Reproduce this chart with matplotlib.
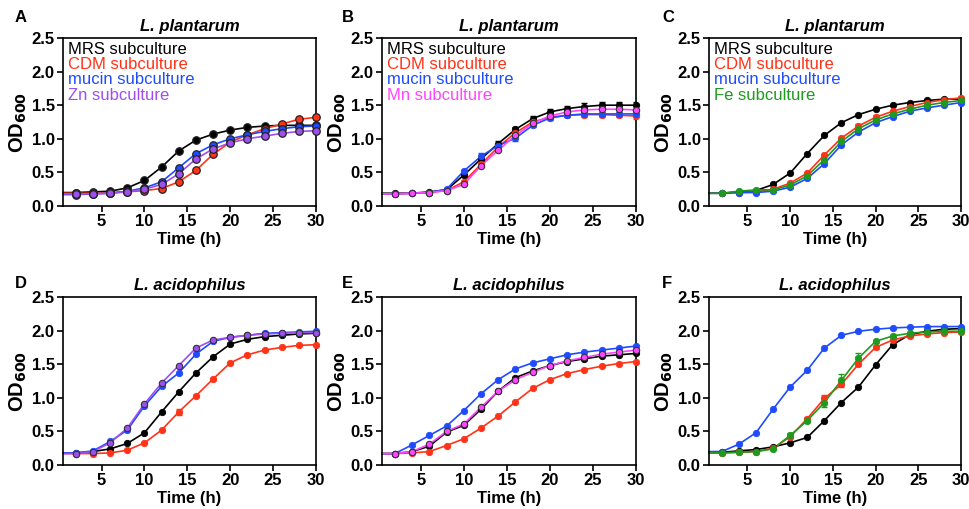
import numpy as np
import matplotlib
matplotlib.use("Agg")
import matplotlib.pyplot as plt
from matplotlib.ticker import FormatStrFormatter

plt.rcParams['font.family'] = ['Liberation Sans', 'DejaVu Sans']

time = [2, 4, 6, 8, 10, 12, 14, 16, 18, 20, 22, 24, 26, 28, 30]

# Panel A - L. plantarum, Zn
a_mrs   = [0.20, 0.21, 0.22, 0.27, 0.38, 0.58, 0.82, 0.98, 1.07, 1.13, 1.17, 1.19, 1.20, 1.20, 1.20]
a_cdm   = [0.19, 0.19, 0.20, 0.21, 0.23, 0.26, 0.36, 0.53, 0.77, 0.95, 1.06, 1.15, 1.22, 1.29, 1.32]
a_mucin = [0.17, 0.18, 0.19, 0.22, 0.27, 0.36, 0.57, 0.78, 0.91, 1.00, 1.06, 1.11, 1.15, 1.18, 1.19]
a_metal = [0.18, 0.18, 0.19, 0.21, 0.25, 0.32, 0.48, 0.70, 0.85, 0.94, 1.00, 1.04, 1.08, 1.11, 1.12]

# Panel B - L. plantarum, Mn
b_mrs   = [0.19, 0.19, 0.21, 0.24, 0.46, 0.70, 0.93, 1.14, 1.30, 1.40, 1.45, 1.48, 1.50, 1.50, 1.50]
b_cdm   = [0.18, 0.19, 0.20, 0.23, 0.36, 0.62, 0.88, 1.09, 1.25, 1.32, 1.35, 1.36, 1.36, 1.35, 1.34]
b_mucin = [0.18, 0.19, 0.20, 0.25, 0.52, 0.74, 0.90, 1.01, 1.20, 1.31, 1.35, 1.37, 1.37, 1.37, 1.37]
b_metal = [0.18, 0.19, 0.20, 0.23, 0.32, 0.60, 0.83, 1.05, 1.23, 1.34, 1.40, 1.43, 1.44, 1.44, 1.43]

# Panel C - L. plantarum, Fe
c_mrs   = [0.19, 0.21, 0.23, 0.32, 0.49, 0.78, 1.05, 1.24, 1.36, 1.44, 1.50, 1.54, 1.57, 1.59, 1.59]
c_cdm   = [0.19, 0.20, 0.21, 0.25, 0.34, 0.49, 0.76, 1.01, 1.19, 1.32, 1.41, 1.48, 1.54, 1.58, 1.61]
c_mucin = [0.19, 0.20, 0.20, 0.22, 0.28, 0.41, 0.63, 0.91, 1.10, 1.24, 1.33, 1.41, 1.46, 1.50, 1.54]
c_metal = [0.19, 0.22, 0.24, 0.24, 0.31, 0.45, 0.69, 0.96, 1.15, 1.28, 1.37, 1.44, 1.50, 1.54, 1.57]

# Panel D - L. acidophilus, Zn
d_mrs   = [0.18, 0.20, 0.24, 0.32, 0.48, 0.79, 1.09, 1.37, 1.61, 1.80, 1.87, 1.91, 1.93, 1.95, 1.96]
d_cdm   = [0.17, 0.17, 0.18, 0.22, 0.33, 0.52, 0.79, 1.03, 1.28, 1.52, 1.64, 1.71, 1.75, 1.78, 1.79]
d_mucin = [0.18, 0.21, 0.35, 0.52, 0.88, 1.17, 1.37, 1.65, 1.84, 1.90, 1.93, 1.96, 1.97, 1.98, 1.99]
d_metal = [0.17, 0.20, 0.33, 0.55, 0.91, 1.22, 1.48, 1.74, 1.86, 1.90, 1.93, 1.95, 1.96, 1.97, 1.97]

# Panel E - L. acidophilus, Mn
e_mrs   = [0.17, 0.20, 0.28, 0.49, 0.59, 0.83, 1.10, 1.30, 1.40, 1.48, 1.54, 1.58, 1.62, 1.64, 1.66]
e_cdm   = [0.17, 0.18, 0.20, 0.29, 0.39, 0.55, 0.73, 0.94, 1.14, 1.27, 1.36, 1.42, 1.47, 1.51, 1.54]
e_mucin = [0.17, 0.30, 0.44, 0.58, 0.81, 1.06, 1.27, 1.43, 1.52, 1.58, 1.64, 1.68, 1.71, 1.74, 1.77]
e_metal = [0.17, 0.20, 0.31, 0.50, 0.61, 0.86, 1.10, 1.27, 1.38, 1.48, 1.55, 1.60, 1.65, 1.68, 1.71]

# Panel F - L. acidophilus, Fe
f_mrs   = [0.19, 0.21, 0.23, 0.27, 0.33, 0.41, 0.66, 0.93, 1.16, 1.49, 1.79, 1.94, 1.99, 2.02, 2.03]
f_cdm   = [0.18, 0.19, 0.20, 0.25, 0.42, 0.69, 0.99, 1.20, 1.50, 1.75, 1.86, 1.92, 1.95, 1.97, 1.98]
f_mucin = [0.20, 0.31, 0.48, 0.83, 1.16, 1.41, 1.74, 1.93, 1.99, 2.02, 2.04, 2.05, 2.06, 2.06, 2.06]
f_metal = [0.18, 0.19, 0.20, 0.24, 0.44, 0.66, 0.93, 1.26, 1.59, 1.84, 1.92, 1.96, 1.98, 1.99, 1.99]

# error bars (SD) for selected series
b_err_mrs   = [0, 0, 0.02, 0.01, 0.02, 0.03, 0.03, 0.03, 0.04, 0.04, 0.04, 0.05, 0.05, 0.05, 0.05]
b_err_cdm   = [0, 0, 0.01, 0.01, 0.02, 0.02, 0.02, 0.03, 0.03, 0.03, 0.03, 0.03, 0.03, 0.03, 0.04]
b_err_mucin = [0, 0, 0.01, 0.01, 0.02, 0.05, 0.03, 0.04, 0.03, 0.03, 0.03, 0.03, 0.03, 0.03, 0.03]
f_err_metal = [0, 0, 0, 0, 0.03, 0.02, 0.06, 0.09, 0.07, 0.02, 0.01, 0.01, 0.01, 0.01, 0.01]
f_err_cdm   = [0, 0, 0, 0, 0.02, 0.02, 0.05, 0.04, 0.03, 0.02, 0.01, 0.01, 0.01, 0.01, 0.01]
d_err_cdm   = [0, 0, 0, 0, 0, 0, 0.04, 0.01, 0.01, 0.01, 0.01, 0.01, 0.01, 0.01, 0.01]
a_err_cdm   = [0, 0, 0, 0, 0, 0, 0, 0, 0, 0, 0, 0.02, 0.03, 0.03, 0.04]
c_err_cdm   = [0, 0, 0, 0, 0, 0, 0, 0, 0.03, 0.03, 0.02, 0.02, 0.02, 0.02, 0.02]
c_err_metal = [0, 0, 0.02, 0.03, 0, 0, 0, 0, 0, 0, 0, 0, 0, 0, 0]

labels_common = ["MRS subculture", "CDM subculture", "mucin subculture"]

BLACK = "#000000"
RED = "#FF3318"
BLUE = "#1F4BFF"
PURPLE = "#9D4FEF"
MAGENTA = "#FF45FF"
GREEN = "#1E9A1E"

panels = [
    ("A", "L. plantarum", [a_mrs, a_cdm, a_mucin, a_metal], "Zn subculture", PURPLE,
     {1: a_err_cdm}, True, True),
    ("B", "L. plantarum", [b_mrs, b_cdm, b_mucin, b_metal], "Mn subculture", MAGENTA,
     {0: b_err_mrs, 1: b_err_cdm, 2: b_err_mucin}, False, True),
    ("C", "L. plantarum", [c_mrs, c_cdm, c_mucin, c_metal], "Fe subculture", GREEN,
     {1: c_err_cdm, 3: c_err_metal}, False, True),
    ("D", "L. acidophilus", [d_mrs, d_cdm, d_mucin, d_metal], "Zn subculture", PURPLE,
     {1: d_err_cdm}, False, False),
    ("E", "L. acidophilus", [e_mrs, e_cdm, e_mucin, e_metal], "Mn subculture", MAGENTA,
     {}, False, False),
    ("F", "L. acidophilus", [f_mrs, f_cdm, f_mucin, f_metal], "Fe subculture", GREEN,
     {1: f_err_cdm, 3: f_err_metal}, False, False),
]

fig = plt.figure(figsize=(9.7, 5.09), dpi=100)

W, H = 970.0, 509.0
cols = [(63, 316), (382, 636), (709, 961)]
rows = [(38, 206), (297, 465)]

t = np.array(time, dtype=float)
xmin = 0.5

for i, (letter, title, series, metal_label, metal_color, errs, big_edge, show_legend) in enumerate(panels):
    r, c = divmod(i, 3)
    l, rr = cols[c]
    tp, bt = rows[r]
    ax = fig.add_axes([l / W, 1 - bt / H, (rr - l) / W, (bt - tp) / H])

    colors = [BLACK, RED, BLUE, metal_color]
    order = [3, 2, 1, 0] if letter in ("A",) else [3, 1, 2, 0]
    for k in order:
        y = np.array(series[k], dtype=float)
        col = colors[k]
        tx = np.concatenate([[xmin], t])
        yx = np.concatenate([[y[0]], y])
        ax.plot(tx, yx, color=col, lw=1.2, zorder=2 + k * 0.1, clip_on=False)
        if k in errs:
            ax.errorbar(t, y, yerr=errs[k], fmt='none', ecolor=col, elinewidth=1.0,
                        capsize=2.5, capthick=1.0, zorder=2 + k * 0.1)
        if big_edge:
            ms, mec, mew = 5.4, "#222222", 0.9
        else:
            ms = 4.6
            if k == 3 and metal_color in (PURPLE, MAGENTA):
                mec, mew = "#333333", 0.8
            else:
                mec, mew = col, 0.6
        ax.plot(t, y, linestyle='none', marker='o', ms=ms, mfc=col, mec=mec, mew=mew,
                zorder=3 + k * 0.1, clip_on=False)

    ax.set_xlim(xmin, 30)
    ax.set_ylim(0, 2.5)
    ax.set_xticks([5, 10, 15, 20, 25, 30])
    ax.set_yticks([0, 0.5, 1.0, 1.5, 2.0, 2.5])
    ax.yaxis.set_major_formatter(FormatStrFormatter('%.1f'))
    for sp in ax.spines.values():
        sp.set_linewidth(1.2)
    ax.tick_params(axis='both', direction='out', length=4, width=1.2, labelsize=12, pad=2)
    for lab in ax.get_xticklabels() + ax.get_yticklabels():
        lab.set_fontweight('bold')
    ax.set_xlabel("Time (h)", fontsize=12, fontweight='bold', labelpad=2)
    ax.set_ylabel("OD$_{\\mathbf{600}}$", fontsize=14.5, fontweight='bold', labelpad=2)
    ax.set_title(title, fontsize=12, fontweight='bold', fontstyle='italic', pad=5)

    if show_legend:
        names = labels_common + [metal_label]
        for j, (nm, col) in enumerate(zip(names, colors)):
            ax.text(0.02, 0.975 - j * 0.09, nm, transform=ax.transAxes, color=col,
                    fontsize=12, va='top', ha='left', zorder=10)

    lx = [15, 342, 662][c]
    ly = [18, 283][r]
    fig.text(lx / W, 1 - ly / H, letter, fontsize=12, fontweight='bold', va='center', ha='left')

fig.savefig("out.png", dpi=100)
